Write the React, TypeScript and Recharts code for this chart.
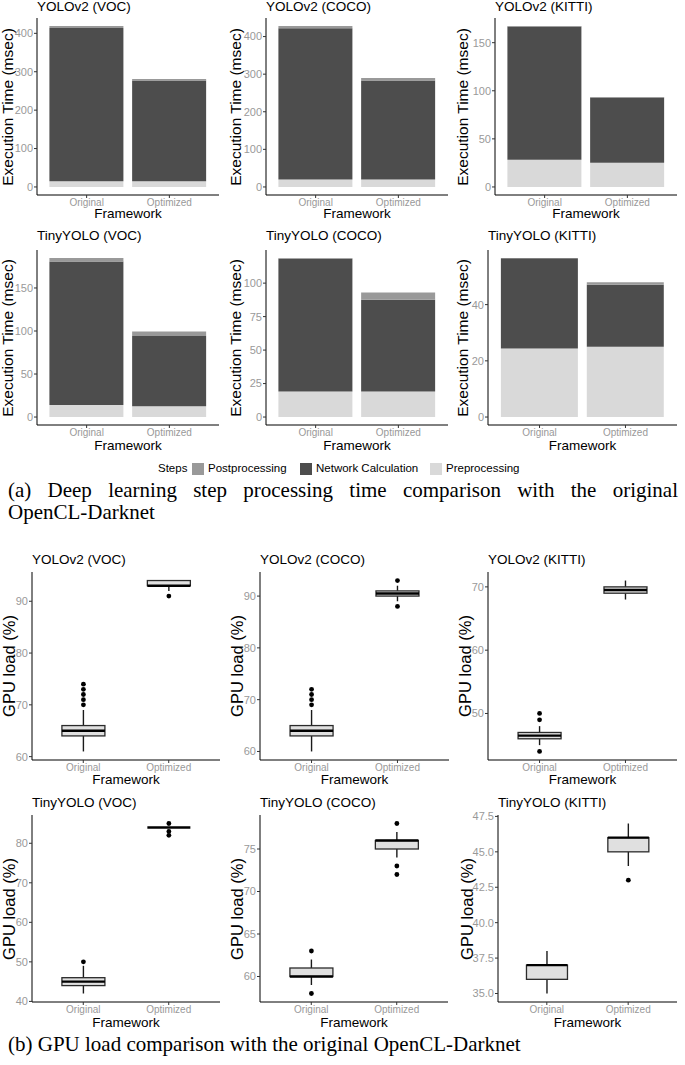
import React from "react";
import { BarChart, Bar, XAxis, YAxis } from "recharts";

const FRAMEWORKS = ["Original", "Optimized"];

// execution time per step (msec) – stacked from bottom: pre, network, post
const yoloVocPre = [15, 15];
const yoloVocNet = [399, 262];
const yoloVocPost = [5, 4];

const yoloCocoPre = [20, 20];
const yoloCocoNet = [402, 263];
const yoloCocoPost = [6, 7];

const yoloKittiPre = [28.3, 25.2];
const yoloKittiNet = [138.5, 67.8];
const yoloKittiPost = [0.5, 0.6];

const tinyVocPre = [14, 12.6];
const tinyVocNet = [166.7, 81.7];
const tinyVocPost = [4.2, 5];

const tinyCocoPre = [19, 19];
const tinyCocoNet = [99.2, 68.5];
const tinyCocoPost = [0.6, 5.5];

const tinyKittiPre = [24.4, 25];
const tinyKittiNet = [32.1, 22.1];
const tinyKittiPost = [0.1, 0.9];

// GPU load (%) box statistics: whisker low, q1, median, q3, whisker high, outliers
const yoloVocLow = [61, 92];
const yoloVocQ1 = [64, 93];
const yoloVocMed = [65, 93];
const yoloVocQ3 = [66, 94];
const yoloVocHigh = [69, 94];
const yoloVocOut = [[70, 71, 72, 73, 74], [91]];

const yoloCocoLow = [60, 89];
const yoloCocoQ1 = [63, 90];
const yoloCocoMed = [64, 90.5];
const yoloCocoQ3 = [65, 91];
const yoloCocoHigh = [68, 92];
const yoloCocoOut = [[69, 70, 71, 72], [88, 93]];

const yoloKittiLow = [45, 68];
const yoloKittiQ1 = [46, 69];
const yoloKittiMed = [46.5, 69.5];
const yoloKittiQ3 = [47, 70];
const yoloKittiHigh = [48, 71];
const yoloKittiOut = [[44, 49, 50], []];

const tinyVocLow = [42, 84];
const tinyVocQ1 = [44, 84];
const tinyVocMed = [45, 84];
const tinyVocQ3 = [46, 84];
const tinyVocHigh = [49, 84];
const tinyVocOut = [[50], [82, 83, 85]];

const tinyCocoLow = [59, 74];
const tinyCocoQ1 = [60, 75];
const tinyCocoMed = [60, 76];
const tinyCocoQ3 = [61, 76];
const tinyCocoHigh = [62, 77];
const tinyCocoOut = [[58, 63], [72, 73, 78]];

const tinyKittiLow = [35, 44];
const tinyKittiQ1 = [36, 45];
const tinyKittiMed = [37, 46];
const tinyKittiQ3 = [37, 46];
const tinyKittiHigh = [38, 47];
const tinyKittiOut = [[], [43]];

const FONT = "'Liberation Sans', Arial, Helvetica, sans-serif";
const SERIF = "'Liberation Serif', 'Times New Roman', serif";
const COLORS = { post: "#999999", net: "#4d4d4d", pre: "#d9d9d9" };

const stepRows = (pre: number[], net: number[], post: number[]) =>
  FRAMEWORKS.map((name, i) => ({ name, pre: pre[i], net: net[i], post: post[i] }));

const boxRows = (
  low: number[], q1: number[], med: number[], q3: number[], high: number[], out: number[][]
) =>
  FRAMEWORKS.map((name, i) => {
    const all = [low[i], high[i], ...out[i]];
    return {
      name,
      range: [Math.min(...all), Math.max(...all)],
      low: low[i], q1: q1[i], med: med[i], q3: q3[i], high: high[i], out: out[i],
    };
  });

const Txt = ({ x, y, size, children, anchor = "left", rotate = false, color = "#000" }: any) => (
  <div
    style={{
      position: "absolute",
      left: x,
      top: y,
      fontSize: size,
      lineHeight: 1,
      fontFamily: FONT,
      color,
      whiteSpace: "nowrap",
      transform: rotate
        ? "translate(-50%, -50%) rotate(-90deg)"
        : anchor === "center"
        ? "translate(-50%, -50%)"
        : "translate(0, -50%)",
    }}
  >
    {children}
  </div>
);

const BoxShape = (props: any) => {
  const { x, y, width, height, payload } = props;
  const [lo, hi] = payload.range;
  const top = Math.min(y, y + height);
  const bottom = Math.max(y, y + height);
  const py = (v: number) => bottom - ((v - lo) / (hi - lo)) * (bottom - top);
  const cx = x + width / 2;
  return (
    <g>
      <line x1={cx} x2={cx} y1={py(payload.high)} y2={py(payload.q3)} stroke="#1a1a1a" strokeWidth={1.4} />
      <line x1={cx} x2={cx} y1={py(payload.q1)} y2={py(payload.low)} stroke="#1a1a1a" strokeWidth={1.4} />
      <rect
        x={x}
        y={py(payload.q3)}
        width={width}
        height={py(payload.q1) - py(payload.q3)}
        fill="#e0e0e0"
        stroke="#2b2b2b"
        strokeWidth={1.3}
      />
      <line x1={x} x2={x + width} y1={py(payload.med)} y2={py(payload.med)} stroke="#000" strokeWidth={2.4} />
      {payload.out.map((v: number, i: number) => (
        <circle key={i} cx={cx} cy={py(v)} r={2.4} fill="#000" />
      ))}
    </g>
  );
};

const YW = 44;
const MT = 8;
const XH = 20;

const Panel = ({ kind, data, domain, ticks, title, yLabel, yLabelSize, px, py0, px1, py1, ylx, titleY, fwY }: any) => {
  const plotW = px1 - px;
  const plotH = py1 - py0;
  const pad = plotW / 22;
  const axisProps = { stroke: "#000", strokeWidth: 1 };
  const decimals = ticks.some((t: number) => t % 1 !== 0);
  return (
    <>
      <div style={{ position: "absolute", left: px - YW, top: py0 - MT }}>
        <BarChart
          width={YW + plotW + 6}
          height={MT + plotH + XH}
          data={data}
          margin={{ top: MT, right: 6, bottom: 0, left: 0 }}
          barCategoryGap={kind === "box" ? "25%" : "5%"}
        >
          <XAxis
            dataKey="name"
            axisLine={axisProps}
            tickLine={{ stroke: "#333" }}
            tickSize={3}
            tickMargin={1}
            height={XH}
            padding={{ left: pad, right: pad }}
            tick={{ fontSize: 10, fill: "#999", fontFamily: FONT }}
            interval={0}
          />
          <YAxis
            type="number"
            domain={domain}
            ticks={ticks}
            allowDataOverflow
            width={YW}
            axisLine={axisProps}
            tickLine={{ stroke: "#333" }}
            tickSize={3}
            tickMargin={1}
            tick={{ fontSize: 11, fill: "#999", fontFamily: FONT }}
            tickFormatter={(v: number) => (decimals ? v.toFixed(1) : String(v))}
          />
          {kind === "box" ? (
            <Bar dataKey="range" shape={<BoxShape />} isAnimationActive={false} />
          ) : (
            [
              <Bar key="pre" dataKey="pre" stackId="s" fill={COLORS.pre} isAnimationActive={false} />,
              <Bar key="net" dataKey="net" stackId="s" fill={COLORS.net} isAnimationActive={false} />,
              <Bar key="post" dataKey="post" stackId="s" fill={COLORS.post} isAnimationActive={false} />,
            ]
          )}
        </BarChart>
      </div>
      <Txt x={px} y={titleY} size={13.5}>{title}</Txt>
      <Txt x={(px + px1) / 2} y={fwY} size={13.5} anchor="center">Framework</Txt>
      <Txt x={ylx} y={(py0 + py1) / 2} size={yLabelSize} rotate>{yLabel}</Txt>
    </>
  );
};

const stepDomain = (rows: any[]) => {
  const m = Math.max(...rows.map((r) => r.pre + r.net + r.post));
  return [-0.05 * m, 1.05 * m];
};
const boxDomain = (rows: any[]) => {
  const lo = Math.min(...rows.map((r) => r.range[0]));
  const hi = Math.max(...rows.map((r) => r.range[1]));
  const e = (hi - lo) * 0.05;
  return [lo - e, hi + e];
};

const stepPanels = [
  { title: "YOLOv2 (VOC)", rows: stepRows(yoloVocPre, yoloVocNet, yoloVocPost), ticks: [0, 100, 200, 300, 400], px: 37, px1: 219, py0: 18, py1: 195, ylx: 8, titleY: 7, fwY: 214 },
  { title: "YOLOv2 (COCO)", rows: stepRows(yoloCocoPre, yoloCocoNet, yoloCocoPost), ticks: [0, 100, 200, 300, 400], px: 266, px1: 448, py0: 18, py1: 195, ylx: 236, titleY: 7, fwY: 214 },
  { title: "YOLOv2 (KITTI)", rows: stepRows(yoloKittiPre, yoloKittiNet, yoloKittiPost), ticks: [0, 50, 100, 150], px: 495, px1: 677, py0: 18, py1: 195, ylx: 463, titleY: 7, fwY: 214 },
  { title: "TinyYOLO (VOC)", rows: stepRows(tinyVocPre, tinyVocNet, tinyVocPost), ticks: [0, 50, 100, 150], px: 37, px1: 219, py0: 250, py1: 425, ylx: 8, titleY: 236, fwY: 446 },
  { title: "TinyYOLO (COCO)", rows: stepRows(tinyCocoPre, tinyCocoNet, tinyCocoPost), ticks: [0, 25, 50, 75, 100], px: 266, px1: 448, py0: 250, py1: 425, ylx: 236, titleY: 236, fwY: 446 },
  { title: "TinyYOLO (KITTI)", rows: stepRows(tinyKittiPre, tinyKittiNet, tinyKittiPost), ticks: [0, 20, 40], px: 488, px1: 677, py0: 250, py1: 425, ylx: 463, titleY: 236, fwY: 446 },
];

const boxPanels = [
  { title: "YOLOv2 (VOC)", rows: boxRows(yoloVocLow, yoloVocQ1, yoloVocMed, yoloVocQ3, yoloVocHigh, yoloVocOut), ticks: [60, 70, 80, 90], px: 32, px1: 220, py0: 572, py1: 760, ylx: 9, titleY: 560, fwY: 780 },
  { title: "YOLOv2 (COCO)", rows: boxRows(yoloCocoLow, yoloCocoQ1, yoloCocoMed, yoloCocoQ3, yoloCocoHigh, yoloCocoOut), ticks: [60, 70, 80, 90], px: 260, px1: 449, py0: 572, py1: 760, ylx: 237, titleY: 560, fwY: 780 },
  { title: "YOLOv2 (KITTI)", rows: boxRows(yoloKittiLow, yoloKittiQ1, yoloKittiMed, yoloKittiQ3, yoloKittiHigh, yoloKittiOut), ticks: [50, 60, 70], px: 488, px1: 677, py0: 572, py1: 760, ylx: 465, titleY: 560, fwY: 780 },
  { title: "TinyYOLO (VOC)", rows: boxRows(tinyVocLow, tinyVocQ1, tinyVocMed, tinyVocQ3, tinyVocHigh, tinyVocOut), ticks: [40, 50, 60, 70, 80], px: 32, px1: 220, py0: 815, py1: 1002, ylx: 9, titleY: 803, fwY: 1023 },
  { title: "TinyYOLO (COCO)", rows: boxRows(tinyCocoLow, tinyCocoQ1, tinyCocoMed, tinyCocoQ3, tinyCocoHigh, tinyCocoOut), ticks: [60, 65, 70, 75], px: 260, px1: 448, py0: 815, py1: 1002, ylx: 237, titleY: 803, fwY: 1023 },
  { title: "TinyYOLO (KITTI)", rows: boxRows(tinyKittiLow, tinyKittiQ1, tinyKittiMed, tinyKittiQ3, tinyKittiHigh, tinyKittiOut), ticks: [35, 37.5, 40, 42.5, 45, 47.5], px: 498, px1: 677, py0: 815, py1: 1002, ylx: 467, titleY: 803, fwY: 1023 },
];

const legendItems = [
  { label: "Postprocessing", color: COLORS.post, x: 192 },
  { label: "Network Calculation", color: COLORS.net, x: 300 },
  { label: "Preprocessing", color: COLORS.pre, x: 430 },
];

export default function App() {
  return (
    <div style={{ position: "absolute", left: 0, top: 0, width: 685, height: 1065, background: "#fff", overflow: "hidden" }}>
      {stepPanels.map((p) => (
        <Panel
          key={"s" + p.title}
          kind="step"
          data={p.rows}
          domain={stepDomain(p.rows)}
          ticks={p.ticks}
          title={p.title}
          yLabel="Execution Time (msec)"
          yLabelSize={15.5}
          {...p}
        />
      ))}

      <Txt x={158} y={469} size={11.5}>Steps</Txt>
      {legendItems.map((it) => (
        <React.Fragment key={it.label}>
          <div style={{ position: "absolute", left: it.x, top: 463, width: 12, height: 12, background: it.color }} />
          <Txt x={it.x + 16} y={469} size={11.5}>{it.label}</Txt>
        </React.Fragment>
      ))}

      <div
        style={{
          position: "absolute",
          left: 8,
          top: 479,
          width: 670,
          fontFamily: SERIF,
          fontSize: 21,
          lineHeight: "22px",
          textAlign: "justify",
          color: "#000",
        }}
      >
        (a) Deep learning step processing time comparison with the original{" "}
        <span style={{ whiteSpace: "nowrap" }}>OpenCL-Darknet</span>
      </div>

      {boxPanels.map((p) => (
        <Panel
          key={"b" + p.title}
          kind="box"
          data={p.rows}
          domain={boxDomain(p.rows)}
          ticks={p.ticks}
          title={p.title}
          yLabel="GPU load (%)"
          yLabelSize={16.5}
          {...p}
        />
      ))}

      <div
        style={{
          position: "absolute",
          left: 8,
          top: 1034,
          fontFamily: SERIF,
          fontSize: 21,
          lineHeight: "21px",
          color: "#000",
          whiteSpace: "nowrap",
        }}
      >
        (b) GPU load comparison with the original OpenCL-Darknet
      </div>
    </div>
  );
}
